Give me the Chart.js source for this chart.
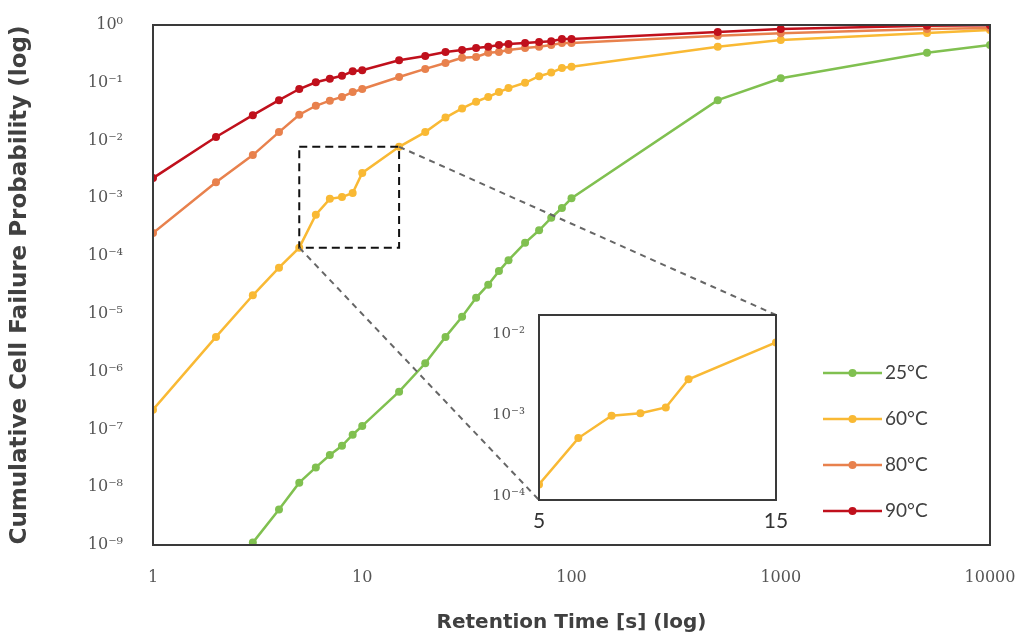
<!DOCTYPE html>
<html>
<head>
<meta charset="utf-8">
<script src="https://cdn.jsdelivr.net/npm/chart.js@4.4.1/dist/chart.umd.min.js"></script>
<style>
    html, body { margin: 0; padding: 0; background: #fff; }
    #wrap { position: relative; width: 1025px; height: 639px; }
    #mainChart { position: absolute; left: 0; top: 0; }
    #insetChart { position: absolute; left: 480px; top: 300px; }
</style>
</head>
<body>
<div id="wrap">
    <canvas id="mainChart" width="1025" height="639"></canvas>
    <canvas id="insetChart" width="320" height="235"></canvas>
</div>
<script>
// retention time [s]
const times = [1, 2, 3, 4, 5, 6, 7, 8, 9, 10, 15, 20, 25, 30, 35, 40, 45, 50, 60, 70, 80, 90, 100, 500, 1000, 5000, 10000];

// cumulative failure probability per temperature
const p25 = [null, null, 1.1e-9, 4.1e-9, 1.2e-8, 2.2e-8, 3.6e-8, 5.2e-8, 8.1e-8, 1.15e-7, 4.5e-7, 1.4e-6, 4.0e-6, 8.9e-6, 1.9e-5, 3.2e-5, 5.5e-5, 8.5e-5, 1.7e-4, 2.8e-4, 4.6e-4, 6.8e-4, 1.0e-3, 0.050, 0.12, 0.33, 0.45];
const p60 = [2.2e-7, 4.0e-6, 2.1e-5, 6.3e-5, 1.4e-4, 5.2e-4, 9.8e-4, 1.05e-3, 1.24e-3, 2.75e-3, 7.8e-3, 0.014, 0.025, 0.036, 0.047, 0.057, 0.069, 0.081, 0.10, 0.13, 0.15, 0.18, 0.19, 0.42, 0.55, 0.73, 0.82];
const p80 = [2.5e-4, 1.9e-3, 5.6e-3, 0.014, 0.028, 0.040, 0.049, 0.057, 0.069, 0.078, 0.126, 0.174, 0.22, 0.27, 0.28, 0.33, 0.34, 0.37, 0.40, 0.42, 0.45, 0.49, 0.49, 0.65, 0.72, 0.85, 0.89];
const p90 = [0.00224, 0.0115, 0.0275, 0.050, 0.078, 0.102, 0.117, 0.132, 0.158, 0.165, 0.245, 0.29, 0.34, 0.37, 0.40, 0.42, 0.45, 0.47, 0.49, 0.51, 0.525, 0.57, 0.575, 0.76, 0.85, 0.97, 0.99];

const seriesLabels = ['25°C', '60°C', '80°C', '90°C'];
const seriesColors = ['#80c050', '#f9b934', '#e8814d', '#c0101c'];

// tick values
const xTicks = [1, 10, 100, 1000, 10000];
const yTicks = [1e-9, 1e-8, 1e-7, 1e-6, 1e-5, 1e-4, 1e-3, 1e-2, 1e-1, 1];

// zoomed region (60°C, 5 s .. 15 s)
const zoomFrom = 5;
const zoomTo = 15;
const insetXTicks = [5, 15];
const insetYTicks = [1e-4, 1e-3, 1e-2];

const supMap = { '0': '⁰', '1': '¹', '2': '²', '3': '³', '4': '⁴', '5': '⁵', '6': '⁶', '7': '⁷', '8': '⁸', '9': '⁹', '-': '⁻' };
function powLabel(v) {
    const e = Math.round(Math.log10(v)).toString();
    return '10' + e.split('').map(c => supMap[c]).join('');
}

function toPoints(vals) {
    return times.map((t, i) => ({ x: t, y: vals[i] }));
}

const tickFont = { family: 'DejaVu Serif', size: 16 };

// ---------- inset chart ----------
const insetPoints = times
    .map((t, i) => ({ x: t, y: p60[i] }))
    .filter(p => p.x >= zoomFrom && p.x <= zoomTo);

const insetBoxPlugin = {
    id: 'insetBox',
    beforeDatasetsDraw(chart) {
        const a = chart.chartArea;
        const ctx = chart.ctx;
        ctx.save();
        ctx.fillStyle = '#ffffff';
        ctx.fillRect(a.left, a.top, a.right - a.left, a.bottom - a.top);
        ctx.restore();
    },
    afterDraw(chart) {
        const a = chart.chartArea;
        const ctx = chart.ctx;
        ctx.save();
        ctx.strokeStyle = '#3a3a3a';
        ctx.lineWidth = 2;
        ctx.strokeRect(a.left, a.top, a.right - a.left, a.bottom - a.top);
        ctx.restore();
    }
};

const insetChart = new Chart(document.getElementById('insetChart'), {
    type: 'line',
    data: {
        datasets: [{
            data: insetPoints,
            borderColor: seriesColors[1],
            backgroundColor: seriesColors[1],
            borderWidth: 2.5,
            pointRadius: 4,
            pointBorderWidth: 0,
            tension: 0
        }]
    },
    options: {
        responsive: false,
        animation: false,
        layout: { padding: { top: 15, right: 24, left: 0, bottom: 0 } },
        plugins: { legend: { display: false }, tooltip: { enabled: false } },
        scales: {
            x: {
                type: 'logarithmic',
                min: zoomFrom,
                max: zoomTo,
                afterBuildTicks: s => { s.ticks = insetXTicks.map(v => ({ value: v })); },
                afterFit: s => { s.height = 35; },
                grid: { display: false },
                border: { display: false },
                ticks: {
                    color: '#333',
                    font: { family: 'Lato', size: 21 },
                    padding: 1,
                    maxRotation: 0,
                    autoSkip: false,
                    callback: v => v.toString()
                }
            },
            y: {
                type: 'logarithmic',
                min: 9e-5,
                max: 1.7e-2,
                afterBuildTicks: s => { s.ticks = insetYTicks.map(v => ({ value: v })); },
                afterFit: s => { s.width = 59; },
                grid: { display: false },
                border: { display: false },
                ticks: {
                    color: '#555',
                    font: { family: 'DejaVu Serif', size: 15 },
                    padding: 6,
                    autoSkip: false,
                    callback: v => powLabel(v)
                }
            }
        }
    },
    plugins: [insetBoxPlugin]
});

// ---------- main chart ----------
const insetCanvas = document.getElementById('insetChart');

const mainDecorPlugin = {
    id: 'mainDecor',
    afterDatasetsDraw(chart) {
        const ctx = chart.ctx;
        const xs = chart.scales.x;
        const ys = chart.scales.y;

        // dashed box around the zoomed part of the 60°C curve
        const i0 = times.indexOf(zoomFrom);
        const i1 = times.indexOf(zoomTo);
        const bx0 = xs.getPixelForValue(zoomFrom);
        const bx1 = xs.getPixelForValue(zoomTo);
        const by0 = ys.getPixelForValue(p60[i0]);
        const by1 = ys.getPixelForValue(p60[i1]);

        ctx.save();
        ctx.strokeStyle = '#111';
        ctx.lineWidth = 2;
        ctx.setLineDash([8, 5]);
        ctx.strokeRect(bx0, by1, bx1 - bx0, by0 - by1);

        // connector lines to the inset
        const ia = insetChart.chartArea;
        const ox = insetCanvas.offsetLeft;
        const oy = insetCanvas.offsetTop;
        ctx.strokeStyle = '#666';
        ctx.setLineDash([6, 5]);
        ctx.beginPath();
        ctx.moveTo(bx0, by0);
        ctx.lineTo(ox + ia.left, oy + ia.bottom);
        ctx.moveTo(bx1, by1);
        ctx.lineTo(ox + ia.right, oy + ia.top);
        ctx.stroke();
        ctx.restore();
    },
    afterDraw(chart) {
        const ctx = chart.ctx;
        const a = chart.chartArea;
        ctx.save();
        ctx.strokeStyle = '#3a3a3a';
        ctx.lineWidth = 2;
        ctx.strokeRect(a.left, a.top, a.right - a.left, a.bottom - a.top);

        // legend
        const lx = 823, ly = 373, step = 46, len = 59;
        ctx.font = '19px Lato';
        ctx.textBaseline = 'middle';
        seriesLabels.forEach((lab, i) => {
            const y = ly + i * step;
            ctx.strokeStyle = seriesColors[i];
            ctx.lineWidth = 2.5;
            ctx.beginPath();
            ctx.moveTo(lx, y);
            ctx.lineTo(lx + len, y);
            ctx.stroke();
            ctx.fillStyle = seriesColors[i];
            ctx.beginPath();
            ctx.arc(lx + len / 2, y, 4, 0, Math.PI * 2);
            ctx.fill();
            ctx.fillStyle = '#404040';
            ctx.fillText(lab, lx + len + 3, y);
        });
        ctx.restore();
    }
};

const seriesValues = [p25, p60, p80, p90];
const datasets = seriesValues.map((vals, i) => ({
    label: seriesLabels[i],
    data: toPoints(vals),
    borderColor: seriesColors[i],
    backgroundColor: seriesColors[i],
    borderWidth: 2.5,
    pointRadius: 4,
    pointBorderWidth: 0,
    tension: 0,
    order: 3 - i
}));

new Chart(document.getElementById('mainChart'), {
    type: 'line',
    data: { datasets: datasets },
    options: {
        responsive: false,
        animation: false,
        layout: { padding: { top: 25, right: 35, left: 0, bottom: 0 } },
        plugins: { legend: { display: false }, tooltip: { enabled: false } },
        scales: {
            x: {
                type: 'logarithmic',
                min: 1,
                max: 10000,
                afterBuildTicks: s => { s.ticks = xTicks.map(v => ({ value: v })); },
                afterFit: s => { s.height = 94; s.paddingLeft = 0; s.paddingRight = 0; },
                grid: { display: false },
                border: { display: false },
                ticks: {
                    color: '#555',
                    font: tickFont,
                    padding: 15,
                    maxRotation: 0,
                    autoSkip: false,
                    callback: v => v.toString()
                },
                title: {
                    display: true,
                    text: 'Retention Time [s] (log)',
                    color: '#404040',
                    font: { family: 'DejaVu Sans', size: 20, weight: 'bold' },
                    padding: { top: 0, bottom: 4 }
                }
            },
            y: {
                type: 'logarithmic',
                min: 1e-9,
                max: 1,
                afterBuildTicks: s => { s.ticks = yTicks.map(v => ({ value: v })); },
                afterFit: s => { s.width = 153; s.paddingTop = 0; s.paddingBottom = 0; },
                grid: { display: false },
                border: { display: false },
                ticks: {
                    color: '#555',
                    font: tickFont,
                    padding: 22,
                    autoSkip: false,
                    callback: v => powLabel(v)
                },
                title: {
                    display: true,
                    text: 'Cumulative Cell Failure Probability (log)',
                    color: '#404040',
                    font: { family: 'DejaVu Sans', size: 23, weight: 'bold' },
                    padding: { top: 6, bottom: 0 }
                }
            }
        }
    },
    plugins: [mainDecorPlugin]
});
</script>
</body>
</html>
